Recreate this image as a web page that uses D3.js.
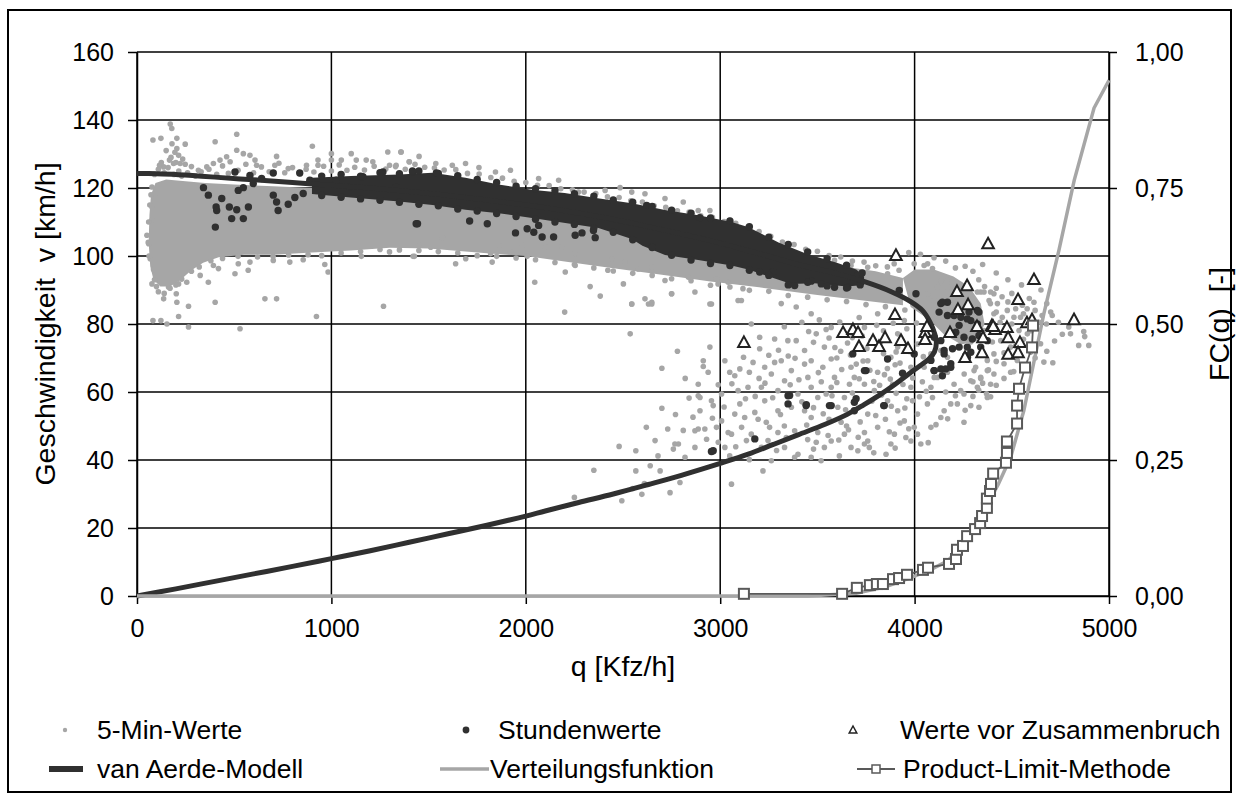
<!DOCTYPE html>
<html><head><meta charset="utf-8">
<script src="https://cdn.jsdelivr.net/npm/d3@7"></script>
<style>body{margin:0;background:#fff}text{font-family:"Liberation Sans",Arial,sans-serif;fill:#000}</style>
</head><body><svg id="c" width="1239" height="800"></svg>
<script>
const xTicks=[0,1000,2000,3000,4000,5000];
const yTicks=[0,20,40,60,80,100,120,140,160];
const y2Ticks=[0,0.25,0.5,0.75,1];
const y2Labels=["0,00","0,25","0,50","0,75","1,00"];
const legendLabels=["5-Min-Werte","Stundenwerte","Werte vor Zusammenbruch","van Aerde-Modell","Verteilungsfunktion","Product-Limit-Methode"];

// areas where the 5-min values overlap completely (q, v)
const denseAreas=[
[[60,104],[64,112],[72,118],[95,121.5],[150,122.5],[250,122],[350,121.5],[500,121],[700,120.5],[900,120],[1300,119],[1700,116],[2000,114],[2300,111],[2600,107],[2900,103],[3200,100.5],[3500,98],[3800,95.5],[3940,93.5],[3940,85.5],[3800,86.5],[3500,88.5],[3200,90.8],[2950,92.5],[2700,94.5],[2450,96.4],[2200,98.4],[2000,100],[1800,100.8],[1500,102.2],[1300,102.4],[1100,101.6],[900,101],[700,100.4],[550,100.4],[420,99.6],[340,98],[280,95.8],[220,92.8],[170,91],[120,91],[85,93],[68,97]],
[[3940,93.5],[4000,96],[4100,96],[4200,94],[4280,91],[4340,86],[4360,80],[4320,75],[4240,74],[4150,77],[4080,81],[3980,85]]
];
// 5-min values (q, v)
const fiveMin=[
[171,138.8],[179,137.5],[82,134.1],[123,134.6],[205,134.6],[248,132.9],[205,131.6],[214,129.6],[167,128.2],[137,126.2],[188,127.2],[222,127.2],[248,127],[116,126.7],[402,133.6],[513,135.8],[513,131.1],[547,130.1],[581,129.6],[461,129.2],[427,128.2],[393,127.2],[359,126.2],[316,125.2],[479,127.7],[607,128.2],[615,126.7],[718,129.3],[709,126.7],[778,125.7],[872,126.7],[902,132.3],[931,128.2],[931,126.7],[1000,130.1],[1000,128.2],[1051,128.2],[1102,130.1],[1128,128.2],[1179,128.2],[1213,127.7],[1290,130.6],[1359,130.6],[1333,126.7],[1401,127.7],[1299,126.7],
[82,81],[123,81],[154,80],[214,82.2],[265,79.1],[205,86.4],[265,85.2],[137,87.4],[402,86.4],[658,87.4],[718,87.4],[530,78.6],[923,82.2],[1268,85.2],[202,88.9],[77,91.8],[162,90.9],[214,91.8],[256,92.3],[367,92.3],[325,94.3],[393,97.2],[419,96.3],[504,94.8],[572,95.8],[581,98.2],[521,97.7],[701,98.7],[786,98.2],[855,98.9],[966,97.5],[983,95.3],[1154,99.9],[1299,101.2],[1427,99.9],[68,99.2],[60,103.6],[51,106.1],[77,110.5],[77,114.4],[94,118.3],[77,120.3],
[90,124],[110,125.5],[125,127.5],[140,124.5],[160,126],[175,129],[190,124],[200,127.5],[215,125],[230,123.5],[150,131],[180,133],[195,130.5],[235,128.5],[260,124.5],[280,126.3],[300,123.5],[330,124.8],[370,125.5],[410,124],[440,126.5],[470,124.3],[520,125.2],[560,127],[600,124.5],[640,126.2],[680,124.8],[730,127.3],[760,124.5],[800,126],[840,124.2],[870,125.5],[910,124.7],[960,126.4],[1000,125],[1040,126.8],[1080,125.2],[1120,126.1],[1170,125.3],[1220,126.4],[1280,125.6],[1330,126.3],[1380,125.5],[1430,127],[1480,126.1],[1530,125.9],[1580,125.3],[1640,125.4],[1700,124.3],[1760,124.1],[1820,123.1],[1880,122.9],[1940,122],[2000,121.6],[2060,120.8],[2120,120.7],[2180,119.8],[2240,119.5],[2300,118.8],[2360,118.4],[2420,117.4],[2480,117.2],[2540,116.2],[2600,115.9],[2660,114.8],[2720,114.3],[2780,113.3],[2840,112.9],[2900,111.8],[2960,111.4],[3020,110.1],[3080,109.6],[3140,108.3],[3200,107.2],[3260,105.8],[3320,104.1],[3380,103.4],[3440,102],[3500,101.4],[3560,100.1],[3620,99.7],[3680,98.5],[3740,98.2],[3800,97.1],[3860,96.8],[3920,95.8],
[62,100],[58,104],[60,110],[66,115],[72,118],[85,96],[90,93],[100,91],[110,89.5],[140,89],[170,90.5],[200,91.5],[230,93.2],[280,95.5],[320,96.8],[380,98.6],[440,99.3],[520,99.9],[620,99.7],[700,99.9],[780,100.3],[880,100.4],[950,100.1],[1050,100.9],[1150,101.3],[1250,101.9],[1350,101.8],[1450,101.6],[1550,101.3],[1650,100.9],[1750,100.1],[1850,99.9],[1950,99.4],[2050,98.9],[2150,98.1],[2250,97.5],[2350,96.5],[2450,95.6],[2550,94.9],[2650,94.3],[2750,93.3],[2850,92.7],[2950,91.4],[3050,90.9],[3150,89.9],[3250,89.6],[3350,88.4],[3450,87.9],[3550,87.1],[3650,86.6],[3750,85.7],[3850,85.1],[3950,84.1],
[1420,99.9],[1451,103.1],[1511,102.6],[1571,105.4],[1639,97.7],[1691,99.2],[1827,98.2],[1819,100.7],[1861,103.1],[1921,101.2],[1981,103.1],[2007,99.9],[2046,92.3],[2101,102.6],[2186,102.6],[2203,95.3],[2200,83.5],[2254,100.7],[2254,97.2],[2331,91],[2383,88.2],[2422,95.8],[2443,99.2],[2502,91.8],[2545,85.9],[2613,87.4],[2648,85.9],[2511,98.2],[2579,96.2],[2648,96.7],[2716,92.8],[2750,88.9],[2836,93.8],[2870,89.4],[2955,85.9],[2981,93.3],[3041,92.3],[3109,86.9],[3117,90.4],[2989,91.8],
[1357,130.6],[1451,129.3],[1400,127.7],[1537,127.2],[1622,126.7],[1690,127.2],[1759,126],[1844,124.7],[1921,125.2],[2066,122.8],[2169,122.3],[2271,118.8],[2408,119.3],[2485,120.1],[2545,118.8],[2613,118.3],[2716,116.9],[2810,115.9],[2887,113.4],[2947,113.4],[3049,110.5],
[3349,99.7],[3588,98.7],[3673,97.2],[3759,96.7],[3861,94.8],[3895,97.7],[3998,97.7],[4049,97.2],[4169,92.8],[4340,89.4],[4408,88.9],
[2537,77.1],[2566,42.7],[2566,36.8],[2665,45.7],[2597,29.9],[2691,36.8],[2742,30.4],[2759,43.2],[2785,44.7],[2819,40.8],[2793,33.4],[2870,43.7],[2887,49.1],[2887,62.3],[2896,58.4],[2896,54.5],[2913,67.5],[2938,65.8],[2921,49.1],[2955,57.4],[2964,56],[2981,49.6],[2990,45.2],[3024,43.7],[3049,41.2],[3058,32.9],[3041,48.1],[3049,65.8],[3075,64.8],[3101,66.8],[3101,56.5],[3126,52.5],[3110,49.6],[3135,45.7],[3160,80],[3203,76.1],[3203,72.7],[3169,68.7],[3212,61.4],[3178,54],[3195,52],[3229,57.4],[3237,51.1],[3254,49.6],[3212,43.7],[3263,39.8],[3297,48.1],[3280,68.7],[3314,69.2],[3331,63.3],[3297,60.4],[3383,48.6],[3400,41.7],[3391,75.1],[3366,66.3],[3434,68.2],[3451,64.3],[3468,61.4],[3468,52.5],[3502,48.1],[3494,45.2],[3536,43.7],[3519,39.8],[3494,77.1],[3536,73.2],[3571,69.7],[3588,64.3],[3545,59.4],[3605,55.5],[3622,51.1],[3639,47.6],[3613,41.2],[3665,62.3],[3673,67.3],[3725,73.2],[3742,62.3],[3759,53.5],[3742,48.1],[3767,43.7],[3708,42.7],[3793,60.4],[3810,65.8],[3810,49.6],[3853,41.7],[3861,57.4],[3887,62.3],[3913,54.5],[3896,47.6],[3947,51.5],[3955,46.6],[3938,65.3],[3981,61.4],[3989,57.4],[4015,53.5],[4032,44.7],[3998,49.6],[4066,56.5],[4084,61.4],[4092,58.4],[4135,52.5],[4186,56.5],[4220,56.5],[4254,51.1],[4289,56],[4331,55.5],[4374,58.4],[4314,67.3],[4340,64.3],[4391,62.3],[4100,85.4],[3947,81],[3913,77.1],[3810,83],[3742,79],[3571,79],[3468,83],[3391,85],[3314,86],[3092,86.9],[2947,85.9],[2631,85.9],[2545,85.9],
[3348,75.1],[3434,72.2],[3468,69.2],[3528,67.3],[3571,61.4],[3639,58.4],[3690,64.3],[3759,69.2],[3776,75.1],[3878,70.2],[3913,73.2],[4015,74.1],[3981,67.3],[4049,67.3],[4118,64.3],[4203,62.3],[4254,59.4],[4289,63.3],[3981,45.6],[3878,44.7],[3759,45.6],[3673,43.7],[3366,55.5],[3434,54.5],[3297,54.5],[3246,45.7],[3160,47.6],[3075,53.5],[3058,47.6],[3007,51.5],[3331,43.7],[3383,40.8],[3468,40.8],[3571,45.6],[3502,58.4],[3400,59.4],[3263,65.3],[3229,67.3],[3143,61.4],[3092,60.4],[3007,59.4],[3024,69.2],[2947,73.2],[2913,69.2],[3742,44.7],[4015,47.6],[4084,49.6],[4152,54.5],[4237,60.4],[4374,66.3],[4323,61.4],
[2494,28],[2350,37],[2250,29],[2480,44],[2648,86.4],[2750,88.9],[2887,58.9],[2767,44.7],[2870,48.6],[2700,67],[2780,72],[2820,64],[3620,72],[3700,58],[3850,52],[3560,52],[3450,46],[3330,50],[3900,68],[3820,62],[3650,50],[3200,64],[3130,58],[3520,63],[3600,70],[3680,76],[3840,78],[3960,58],[4040,63],[4160,60],
[3420,80.5],[3455,77.8],[3480,74.6],[3510,81.2],[3545,78.4],[3560,75.9],[3590,73.1],[3615,80.6],[3640,77.2],[3655,74.4],[3670,70.9],[3700,68.2],[3715,81.9],[3730,76.5],[3755,72.8],[3770,66.4],[3790,63.1],[3805,79.6],[3825,74.7],[3840,71.3],[3860,66.9],[3875,63.8],[3890,80.2],[3905,71.8],[3925,68.5],[3940,62.2],[3960,78.6],[3975,71.9],[3990,64.1],[4010,80.3],[4025,58.6],[4045,70.4],[4060,60.2],[3385,69.9],[3405,63.6],[3420,57.1],[3445,50.3],[3480,55.4],[3505,65.7],[3530,53.6],[3555,47.2],[3575,58.9],[3600,62.8],[3625,66.6],[3645,54.8],[3660,48.9],[3680,59.7],[3715,63.9],[3720,51.2],[3735,69.1],[3780,57.3],[3800,53.1],[3830,59.1],[3845,65.1],[3870,48.3],[3880,55.8],[3905,59.6],[3925,50.9],[3950,55.3],[3970,49.2],[3280,75.6],[3300,72.3],[3330,79.2],[3350,70.6],[3360,62.1],[3250,70.8],[3230,62.6],[3270,58.3],[3310,53.4],[3340,46.6],[3180,58.7],[3150,65.8],[3120,70.2],[3060,62.4],[3020,55.6],[2990,62.1],[2960,52.3],[2930,46.1],[2860,52.6],[2840,58.2],[2810,48.7],[2730,49.1],[2680,41.2],[2640,38.3],[2610,33.1],[2550,31.6],[2620,49.6],[2700,55.2],[2770,53.4],[3080,43.9],[3150,40.1],[3220,36.8],[3290,42.8],[3480,43.2],[3610,45.9],[3710,46.7],[3790,42.1],[3900,43.5],[4070,45.1],[4110,50.4],[4170,52.1],[4210,58.9],[4260,54.6],[4300,58.7],[4350,62.6],
[4067,97.7],[4092,96.3],[4135,92.8],[4118,90.9],[4067,88.9],[4101,86.9],[4169,90.9],[4323,89.4],[4357,89.4],[4391,89.4],[4383,86.9],[4426,86],[4477,84],[4451,82],[4408,83],[4511,82],[4545,82],[4614,86.4],[4656,82.5],[4708,82.5],[4678,80],[4793,79.1],[4802,77.1],[4844,73.7],[4665,68.8],[4580,77.1],[4537,78.1],[4477,76.6],[4443,75.1],[4400,74.7],[4408,71.2],[4374,69.3],[4460,68.3],[4494,65.8],[4408,65.3],[4306,66.3],[4255,65.3],[4169,65.8],[4101,64.3],[4357,78.1],[4272,80.1],[4238,75.1],[4289,74.7],[4135,72.2],[4169,70.2],[4084,71.2],[4101,81],[4067,79],[4494,73.2],[4528,69.3],[4562,67.3],[4596,71.7],[4648,74.2],[4554,85.5],[4579,84.5],
[4870,77.8],[4875,76.3],[4896,73.7],[4711,68.6],[4391,58.6],[4370,59.5],[4330,60.5],
[4420,90.5],[4450,88],[4480,86.5],[4500,89],[4520,84.5],[4560,83],[4590,87.5],[4620,84],[4640,80.5],[4600,78],[4560,75.5],[4520,73.5],[4460,71.5],[4420,69],[4380,66.5],[4340,64],[4300,63],[4440,80.5],[4470,78],[4500,80],[4420,83.5],[4390,86],[4360,91],[4330,93],[4300,95.5],[4260,97],[4210,96.5],[4160,98.5],[4100,99.5],[4030,100.5],[3970,101],[4650,90],[4680,86],[4700,83.5],[4740,80.5],[4760,77],[4720,75],[4680,72],[4620,70],[4570,68],[4510,66],[4460,64],[4420,62],[4550,91.5],[4480,93],[4420,95],[4350,97.5]
];
// band where the hourly values overlap completely (q, v)
const hourlyBand=[[900,123],[1100,123.5],[1350,124],[1520,124.5],[1690,123],[1860,121],[2030,119.5],[2200,118.5],[2370,117],[2545,115.5],[2716,113.5],[2887,112],[3058,110],[3143,108.5],[3300,104],[3450,100.5],[3600,98],[3700,96],[3740,94],[3740,91.5],[3650,91],[3485,92],[3366,91.8],[3144,96],[3058,97.2],[2887,98.8],[2716,100.3],[2600,103],[2545,105],[2374,108.2],[2203,109.7],[2032,111.2],[1861,112.6],[1690,113.6],[1520,115],[1349,116],[1100,117.2],[900,118.2]];
// hourly values (q, v)
const hourly=[
[342,120.1],[367,117.9],[407,114.4],[403,108.5],[410,113.4],[436,116.9],[475,114.4],[487,111],[513,113.6],[547,111],[504,124.7],[521,119.3],[573,114.4],[581,123.7],[547,120.1],[598,121.3],[641,122.8],[701,124.4],[701,117.9],[726,113.4],[718,115.9],[778,115.2],[812,117.2],[837,124.4],[855,118.4],[889,122.3],[957,121.8],[1025,122.3],[1094,120.3],[1162,123.3],[1265,124.7],[1333,120.3],[1418,124.7],[1436,109.5],
[1443,109.5],[1711,110.3],[1802,109.5],[1947,106.8],[2007,108],[2066,109],[2041,107],[2084,105.6],[2143,105.6],[2254,106.1],[2289,106.8],[2348,107.5],[2357,105.4],[1417,125],[1540,124.4],[2622,114.9],[2895,111.3],
[3203,95.3],[3272,95.3],[3383,91.3],[3468,92.6],[3520,91.8],[3588,90.8],[3656,90.8],[3708,94.3],[3921,89.9],[4007,88.9],
[4135,86],[4169,86.4],[4126,83.5],[4203,82.5],[4229,79.6],[4212,77.6],[4254,76.1],[4271,81.5],[4280,83.5],[4331,83.5],[4323,80],[4297,75.6],[4135,75.1],[4152,72.2],[4195,72.7],[4271,73.2],[4263,70.7],[4186,68.3],[4135,66.8],[4101,66.3],[4143,64.8],[3998,71.2],[3938,65.5],[3861,69.7],[3844,56],[3750,66.3],[3690,57],[3699,58],[3571,56],[3443,56.3],[3349,56.5],[3357,59],[3178,46.2],[2964,42.7],
[2955,42.5],[3349,58.9],[3442,56],[3562,56],[3690,54.5],[3742,66.3],[3841,56],[3682,71.2],[4100,66.3],[4160,66.8],
[4143,86.4],[4169,82.5],[4238,82],[4323,84],[4289,81],[4203,77.1],[4101,76.1],[4229,73.2],[4152,71.2],[4289,71.7],[4340,73.2],[4084,69.3],[4186,67.3],[4272,70.2],[4374,75.1],[4331,76.6],
[950,123.5],[1050,124],[1150,123.5],[1250,124.5],[1350,124.2],[1450,125],[1550,124.3],[1650,123.6],[1750,122.5],[1850,121.6],[1950,120.5],[2050,119.8],[2150,119.2],[2250,118.3],[2350,117.6],[2450,116.5],[2550,115.8],[2650,114.6],[2750,113.5],[2850,112.6],[2950,111.2],[3050,110.3],[3150,108.6],[3250,105.5],[3350,103.4],[3450,101.2],[3550,99.2],[3650,97.3],[3730,95],
[950,117.8],[1050,117.3],[1150,116.8],[1250,116.4],[1350,115.8],[1450,115.2],[1550,114.8],[1650,113.8],[1750,113.2],[1850,112.5],[1950,111.6],[2050,110.8],[2150,110],[2250,109.3],[2350,108.2],[2450,107],[2550,104.8],[2650,102.5],[2750,100.2],[2850,98.8],[2950,97.8],[3050,97.2],[3150,95.8],[3250,94.3],[3350,91.5],[3450,92.3],[3550,91.2],[3650,90.6],[3720,91.5]
];
// values before breakdown (q, v)
const breakdown=[[3122,74.6],[3904,100.2],[4378,103.6],[4614,93.1],[4532,87.2],[4820,81.3],[4270,91.3],[4218,89.6],[4275,85.7],[4223,84.3],[4321,79.3],[4182,77.5],[4398,79.6],[4414,78.4],[4475,79],[4352,76],[4481,76],[4542,74.6],[4347,71.6],[4481,71.1],[4532,71.6],[4259,70.2],[4578,80.4],[4604,81.3],[3899,82.8],[3632,77.5],[3683,78.4],[3709,77.5],[3714,73.4],[3786,75.2],[3817,73.4],[3848,76],[3930,75.2],[3966,72.8],[4054,77.5],[4054,75.5],[4064,79.3],[4404,79.3]];
// van Aerde model (q, v)
const vanAerde=[[0,124.3],[100,124.2],[200,124],[300,123.6],[400,123.2],[600,122.4],[800,121.6],[1000,120.8],[1200,120],[1400,119],[1600,117.8],[1800,116.5],[2000,115],[2200,113.3],[2400,111.3],[2600,109],[2800,106.5],[3000,103.8],[3200,100.7],[3400,97.5],[3600,94.8],[3750,92.3],[3880,89.5],[3980,86.6],[4040,84],[4080,80.5],[4104,77],[4112,74.5],[4102,71.8],[4075,69.8],[4030,67.8],[3975,65.5],[3900,62.3],[3827,59.4],[3740,56.3],[3656,53.5],[3540,50.5],[3400,47.4],[3270,44.5],[3144,41.7],[3000,39],[2800,35.5],[2631,32.8],[2450,30],[2272,27.5],[2100,25],[2000,23.5],[1800,20.8],[1600,18.3],[1400,15.8],[1200,13.3],[1000,11],[800,8.7],[600,6.5],[400,4.3],[200,2.1],[0,0]];
// distribution function FC(q)
const distFn=[[0,0],[3450,0],[3700,0.005],[3850,0.017],[3981,0.034],[4080,0.048],[4169,0.064],[4250,0.095],[4357,0.157],[4430,0.205],[4494,0.255],[4562,0.341],[4665,0.519],[4742,0.635],[4821,0.764],[4923,0.897],[5000,0.948]];
// product-limit estimate (q, F)
const productLimit=[[3122,0.004],[3627,0.004],[3703,0.015],[3770,0.02],[3806,0.022],[3837,0.022],[3889,0.031],[3920,0.033],[3961,0.039],[4043,0.048],[4069,0.052],[4177,0.059],[4213,0.068],[4218,0.085],[4249,0.092],[4270,0.11],[4311,0.123],[4337,0.134],[4347,0.147],[4372,0.162],[4372,0.179],[4388,0.193],[4393,0.206],[4404,0.225],[4470,0.245],[4475,0.263],[4475,0.284],[4527,0.317],[4527,0.35],[4537,0.381],[4568,0.42],[4604,0.457],[4609,0.497]];

const svg=d3.select("#c");
const FS=25, FL=26.5, FT=28.5;
const GRAY="#a6a6a6", DARK="#303030";
const x=d3.scaleLinear().domain([0,5000]).range([137,1109]);
const y=d3.scaleLinear().domain([0,160]).range([596,52]);
const y2=d3.scaleLinear().domain([0,1]).range([596,52]);

svg.append("rect").attr("x",8).attr("y",10).attr("width",1223).attr("height",782)
  .attr("fill","#fff").attr("stroke","#000").attr("stroke-width",2);

const grid=svg.append("g").attr("stroke","#000").attr("stroke-width",1.5);
grid.selectAll("line.h").data(yTicks).join("line").attr("class","h")
  .attr("x1",x(0)).attr("x2",x(5000)).attr("y1",d=>y(d)).attr("y2",d=>y(d));
grid.selectAll("line.v").data(xTicks).join("line").attr("class","v")
  .attr("y1",y(0)).attr("y2",y(160)).attr("x1",d=>x(d)).attr("x2",d=>x(d));

function styleAxis(g){
  g.selectAll("path,line").attr("stroke","#000").attr("stroke-width",1.5);
  g.selectAll("text").attr("font-size",FS).attr("font-family","Liberation Sans, Arial, sans-serif").attr("fill","#000");
}
svg.append("g").attr("transform",`translate(${x(0)},0)`)
  .call(d3.axisLeft(y).tickValues(yTicks).tickSize(9).tickSizeOuter(0).tickPadding(14).tickFormat(d3.format("d"))).call(styleAxis);
svg.append("g").attr("transform",`translate(${x(5000)},0)`)
  .call(d3.axisRight(y2).tickValues(y2Ticks).tickSize(8).tickSizeOuter(0).tickPadding(18).tickFormat((d,i)=>y2Labels[i])).call(styleAxis);
svg.append("g").attr("transform",`translate(0,${y(0)})`)
  .call(d3.axisBottom(x).tickValues(xTicks).tickSize(8).tickSizeOuter(0).tickPadding(15).tickFormat(d3.format("d"))).call(styleAxis);

const areaLine=d3.line().x(d=>x(d[0])).y(d=>y(d[1])).curve(d3.curveLinearClosed);
svg.append("g").selectAll("path").data(denseAreas).join("path").attr("d",areaLine).attr("fill",GRAY);
svg.append("g").selectAll("circle").data(fiveMin).join("circle")
  .attr("cx",d=>x(d[0])).attr("cy",d=>y(d[1])).attr("r",2.8).attr("fill",GRAY);

svg.append("path").datum(hourlyBand).attr("d",areaLine).attr("fill",DARK);
svg.append("g").selectAll("circle").data(hourly).join("circle")
  .attr("cx",d=>x(d[0])).attr("cy",d=>y(d[1])).attr("r",3.7).attr("fill",DARK);

svg.append("path").datum(vanAerde)
  .attr("d",d3.line().x(d=>x(d[0])).y(d=>y(d[1])).curve(d3.curveCatmullRom))
  .attr("fill","none").attr("stroke",DARK).attr("stroke-width",5).attr("stroke-linejoin","round");

const tri="M0,-6L5.8,4.6L-5.8,4.6Z";
svg.append("g").selectAll("path").data(breakdown).join("path")
  .attr("d",tri).attr("transform",d=>`translate(${x(d[0])},${y(d[1])})`)
  .attr("fill","#fff").attr("stroke","#222").attr("stroke-width",2);

svg.append("path").datum(distFn)
  .attr("d",d3.line().x(d=>x(d[0])).y(d=>y2(d[1])))
  .attr("fill","none").attr("stroke",GRAY).attr("stroke-width",3.5);

svg.append("path").datum(productLimit)
  .attr("d",d3.line().x(d=>x(d[0])).y(d=>y2(d[1])))
  .attr("fill","none").attr("stroke","#595959").attr("stroke-width",1.8);
svg.append("g").selectAll("rect").data(productLimit).join("rect")
  .attr("x",d=>x(d[0])-5).attr("y",d=>y2(d[1])-5).attr("width",10).attr("height",10)
  .attr("fill","#fff").attr("stroke","#595959").attr("stroke-width",2);

svg.append("text").attr("x",x(2500)).attr("y",676).attr("text-anchor","middle").attr("font-size",FT).text("q [Kfz/h]");
svg.append("text").attr("transform",`translate(55,${y(80)}) rotate(-90)`).attr("text-anchor","middle").attr("font-size",FT).attr("xml:space","preserve").text("Geschwindigkeit  v [km/h]");
svg.append("text").attr("transform",`translate(1229,${y(80)}) rotate(-90)`).attr("text-anchor","middle").attr("font-size",FT).attr("xml:space","preserve").text("FC(q)  [-]");

const L=svg.append("g");
const r1=730, r2=769;
L.append("circle").attr("cx",65).attr("cy",r1).attr("r",2.2).attr("fill",GRAY);
L.append("circle").attr("cx",466).attr("cy",r1).attr("r",3.4).attr("fill",DARK);
L.append("path").attr("d","M0,-4L3.8,3L-3.8,3Z").attr("transform",`translate(853,${r1})`).attr("fill","#fff").attr("stroke","#222").attr("stroke-width",1.5);
L.append("line").attr("x1",49).attr("x2",83).attr("y1",r2).attr("y2",r2).attr("stroke",DARK).attr("stroke-width",6);
L.append("line").attr("x1",440).attr("x2",489).attr("y1",r2).attr("y2",r2).attr("stroke",GRAY).attr("stroke-width",3.5);
L.append("line").attr("x1",857).attr("x2",895).attr("y1",r2).attr("y2",r2).attr("stroke","#595959").attr("stroke-width",1.8);
L.append("rect").attr("x",872).attr("y",r2-4).attr("width",8).attr("height",8).attr("fill","#fff").attr("stroke","#595959").attr("stroke-width",1.5);
const lx=[97,498,900,97,490,903], ly=[r1,r1,r1,r2,r2,r2];
L.selectAll("text").data(legendLabels).join("text")
  .attr("x",(d,i)=>lx[i]).attr("y",(d,i)=>ly[i]+9).attr("font-size",FL).text(d=>d);
</script></body></html>
